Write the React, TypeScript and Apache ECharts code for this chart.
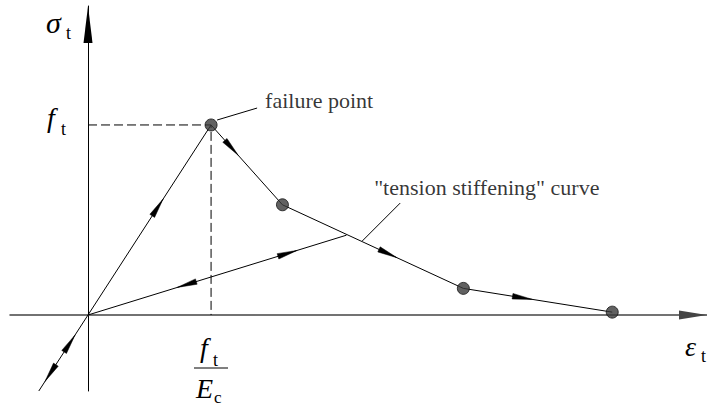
import { useEffect, useRef } from "react";
import * as echarts from "echarts";

// Stress–strain path of concrete in tension (ε in units of f_t/E_c, σ in units of f_t)
const curvePoints = [
  [-0.4, -0.4],
  [0, 0],
  [1, 1],
  [1.58, 0.58],
  [3.05, 0.14],
  [4.26, 0.015],
];
const markedPoints = [
  [1, 1],
  [1.58, 0.58],
  [3.05, 0.14],
  [4.26, 0.015],
];
const stiffeningCurve = [
  [0, 0],
  [2.1, 0.42],
];
const failureGuides = [
  [0, 1],
  [1, 1],
  [1, 0],
];
const failureLeader = [
  [1.049, 1.026],
  [1.374, 1.089],
];
const stiffeningLeader = [
  [2.228, 0.389],
  [2.537, 0.589],
];
// arrowheads: [from ε, from σ, to ε, to σ, tip position along that segment]
const arrowheads = [
  [0, 0, 1, 1, 0.61],
  [-0.4, -0.4, 0, 0, 0.735],
  [0, 0, -0.4, -0.4, 0.874],
  [1, 1, 1.58, 0.58, 0.38],
  [1.58, 0.58, 3.05, 0.14, 0.634],
  [3.05, 0.14, 4.26, 0.015, 0.463],
  [2.1, 0.42, 0, 0, 0.655],
  [0, 0, 2.1, 0.42, 0.809],
];
const annotationTexts = ["failure point", '"tension stiffening" curve'];
const annotationAnchors = [
  [1.439, 1.129],
  [2.325, 0.671],
];
const strainRange = [-0.634, 5.03];
const stressRange = [-0.4, 1.626];

const SERIF = "Liberation Serif";
const INK = "#000";

function mathText(
  text: string,
  x: number,
  y: number,
  size: number,
  italic: boolean
) {
  return {
    type: "text",
    x,
    y,
    silent: true,
    style: {
      text,
      fill: INK,
      fontFamily: SERIF,
      fontSize: size,
      fontStyle: italic ? "italic" : "normal",
      align: "left",
      verticalAlign: "middle",
    },
  };
}

export default function App() {
  const ref = useRef<HTMLDivElement>(null);

  useEffect(() => {
    if (!ref.current) return;
    const chart = echarts.init(ref.current, undefined, { renderer: "svg" });

    const thinLine = { color: INK, width: 1 };

    chart.setOption({
      animation: false,
      backgroundColor: "#fff",
      textStyle: { fontFamily: SERIF },
      grid: { left: 10, right: 0, top: 6, bottom: 16 },
      xAxis: {
        type: "value",
        min: strainRange[0],
        max: strainRange[1],
        axisLine: {
          onZero: true,
          lineStyle: { color: "#444", width: 1.5 },
          symbol: ["none", "triangle"],
          symbolSize: [9, 28],
          symbolOffset: [0, -14],
        },
        axisTick: { show: false },
        axisLabel: { show: false },
        splitLine: { show: false },
      },
      yAxis: {
        type: "value",
        min: stressRange[0],
        max: stressRange[1],
        axisLine: {
          onZero: true,
          lineStyle: { color: INK, width: 1 },
          symbol: ["none", "triangle"],
          symbolSize: [9, 37],
          symbolOffset: [0, -18.5],
        },
        axisTick: { show: false },
        axisLabel: { show: false },
        splitLine: { show: false },
      },
      series: [
        {
          type: "line",
          data: failureGuides,
          symbol: "none",
          lineStyle: { color: INK, width: 1, type: [9, 4] },
          silent: true,
        },
        {
          type: "line",
          data: curvePoints,
          symbol: "none",
          lineStyle: thinLine,
          silent: true,
        },
        {
          type: "line",
          data: stiffeningCurve,
          symbol: "none",
          lineStyle: thinLine,
          silent: true,
        },
        {
          type: "line",
          data: failureLeader,
          symbol: "none",
          lineStyle: thinLine,
          silent: true,
        },
        {
          type: "line",
          data: stiffeningLeader,
          symbol: "none",
          lineStyle: thinLine,
          silent: true,
        },
        {
          type: "custom",
          silent: true,
          data: arrowheads,
          renderItem: (_params: any, api: any) => {
            const a = api.coord([api.value(0), api.value(1)]);
            const b = api.coord([api.value(2), api.value(3)]);
            const t = api.value(4);
            const dx = b[0] - a[0];
            const dy = b[1] - a[1];
            const len = Math.hypot(dx, dy) || 1;
            const ux = dx / len;
            const uy = dy / len;
            const tip = [a[0] + dx * t, a[1] + dy * t];
            const L = 20;
            const W = 2.8;
            const base = [tip[0] - ux * L, tip[1] - uy * L];
            return {
              type: "polygon",
              shape: {
                points: [
                  tip,
                  [base[0] - uy * W, base[1] + ux * W],
                  [base[0] + uy * W, base[1] - ux * W],
                ],
              },
              style: { fill: INK, stroke: INK, lineWidth: 0.5 },
            };
          },
        },
        {
          type: "scatter",
          data: markedPoints,
          symbol: "circle",
          symbolSize: 12,
          itemStyle: { color: "#3a3a3a", borderColor: "#111", borderWidth: 1 },
          silent: true,
          z: 5,
        },
        {
          type: "scatter",
          silent: true,
          symbolSize: 0,
          data: annotationAnchors.map((p, i) => ({
            value: p,
            label: {
              show: true,
              formatter: annotationTexts[i],
              position: [0, 0],
              align: "left",
              verticalAlign: "middle",
              color: INK,
              fontFamily: SERIF,
              fontSize: 22,
            },
          })),
        },
      ],
      graphic: [
        mathText("σ", 46, 22, 30, true),
        mathText("t", 66, 33, 18, false),
        mathText("f", 47, 117.5, 28, true),
        mathText("t", 61, 129, 18, false),
        mathText("f", 200, 347.5, 28, true),
        mathText("t", 213, 360, 18, false),
        {
          type: "line",
          silent: true,
          shape: { x1: 194, y1: 368, x2: 228, y2: 368 },
          style: { stroke: INK, lineWidth: 1 },
        },
        mathText("E", 196, 388.5, 28, true),
        mathText("c", 214, 397.5, 17, false),
        mathText("ε", 685, 346.5, 28, true),
        mathText("t", 701, 356, 18, false),
      ],
    });

    return () => chart.dispose();
  }, []);

  return (
    <div
      ref={ref}
      style={{
        position: "absolute",
        left: 0,
        top: 0,
        width: 707,
        height: 407,
        background: "#fff",
      }}
    />
  );
}
